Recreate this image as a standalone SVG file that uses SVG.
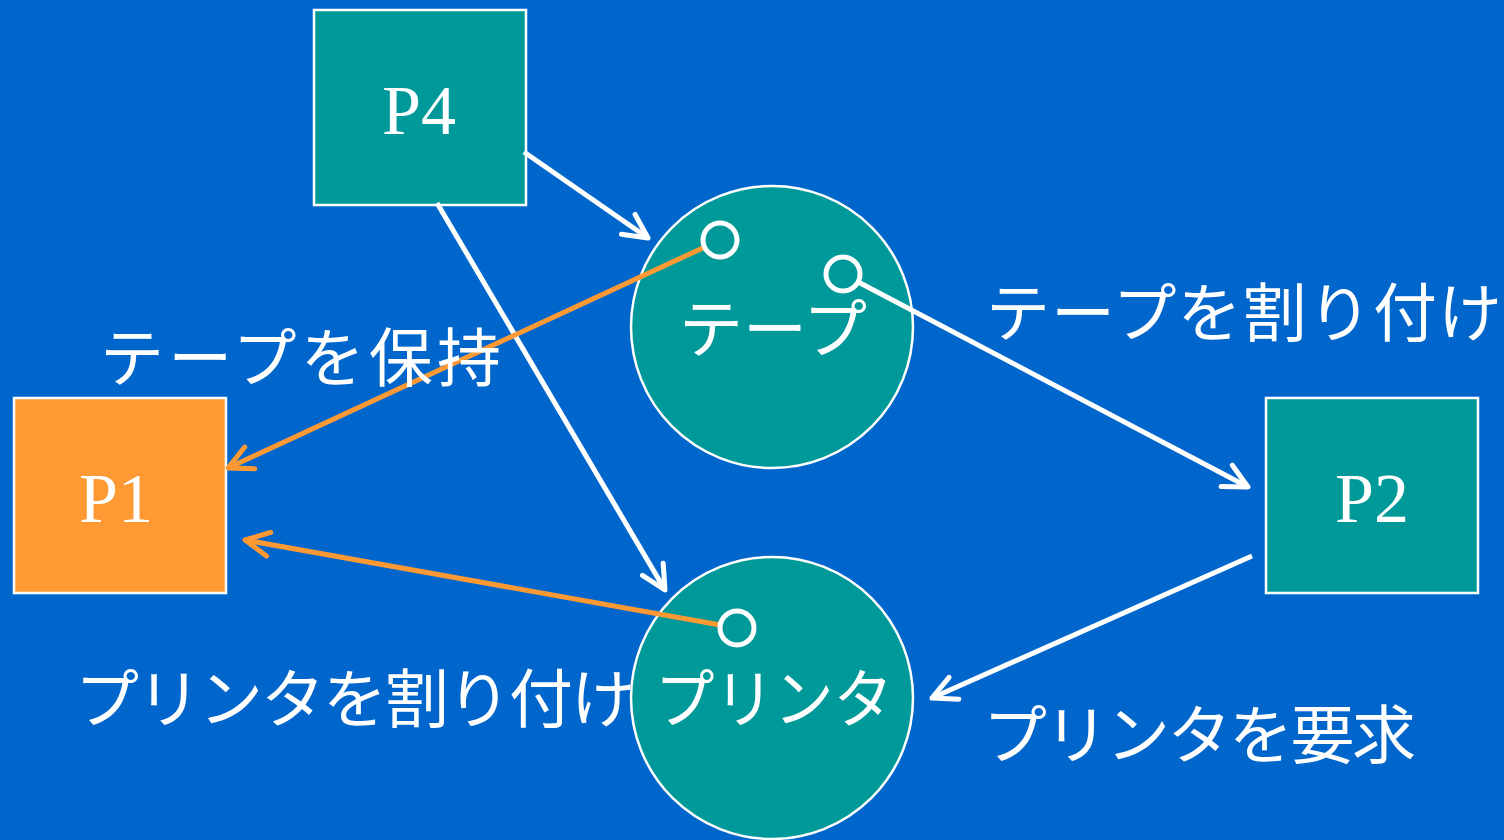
<svg xmlns="http://www.w3.org/2000/svg" width="1504" height="840" viewBox="0 0 1504 840">
<style>
.box{stroke:#FFFFFF;stroke-width:2.5}
.teal{fill:#009999}
.orange{fill:#FF9933}
.big{fill:#009999;stroke:#FFFFFF;stroke-width:2.5}
.port{fill:#009999;stroke:#FFFFFF;stroke-width:5}
.pl{font-family:"Liberation Serif","Times New Roman",serif;font-size:70px;fill:#FFFFFF;text-anchor:middle}
.jp{font-family:"Noto Sans CJK JP","Noto Sans CJK SC",sans-serif;font-size:64px;fill:#FFFFFF}
.w{stroke:#FFFFFF;stroke-width:5;fill:none}
.o{stroke:#FF9933;stroke-width:5;fill:none}
</style>
<defs>
<marker id="aw" markerUnits="userSpaceOnUse" orient="auto" overflow="visible" refX="0" refY="0" markerWidth="30" markerHeight="30">
<path d="M -24 -12 L 0 0 L -24 12" fill="none" stroke="#FFFFFF" stroke-width="5" stroke-linecap="round" stroke-linejoin="round"/>
</marker>
<marker id="ao" markerUnits="userSpaceOnUse" orient="auto" overflow="visible" refX="0" refY="0" markerWidth="30" markerHeight="30">
<path d="M -24 -12 L 0 0 L -24 12" fill="none" stroke="#FF9933" stroke-width="5" stroke-linecap="round" stroke-linejoin="round"/>
</marker>
</defs>
<rect x="0" y="0" width="1504" height="840" fill="#0066CC"/>
<g id="P4"><rect class="box teal" x="314" y="10" width="212" height="195"/><text class="pl" x="419" y="134">P4</text></g>
<g id="P1"><rect class="box orange" x="14" y="398" width="212" height="195"/><text class="pl" x="116" y="522">P1</text></g>
<g id="P2"><rect class="box teal" x="1266" y="398" width="212" height="195"/><text class="pl" x="1372" y="522">P2</text></g>
<g id="tape"><circle class="big" cx="772" cy="327" r="141"/><text class="jp" x="773" y="352" text-anchor="middle">テープ</text></g>
<g id="printer"><circle class="big" cx="772" cy="698" r="141"/><text class="jp" x="655" y="722" textLength="238" lengthAdjust="spacingAndGlyphs">プリンタ</text></g>
<g id="connectors">
<line class="w" x1="524" y1="152" x2="648" y2="238" marker-end="url(#aw)"/>
<line class="w" x1="437" y1="203" x2="665" y2="590" marker-end="url(#aw)"/>
<line class="w" x1="843" y1="274" x2="1248" y2="487" marker-end="url(#aw)"/>
<line class="w" x1="1252" y1="556" x2="932" y2="698" marker-end="url(#aw)"/>
<line class="o" x1="720" y1="240" x2="228" y2="468" marker-end="url(#ao)"/>
<line class="o" x1="737" y1="628" x2="245" y2="540" marker-end="url(#ao)"/>
</g>
<g id="ports">
<circle class="port" cx="720" cy="240" r="17"/>
<circle class="port" cx="843" cy="274" r="17"/>
<circle class="port" cx="737" cy="628" r="17"/>
</g>
<g id="labels">
<text class="jp" x="100" y="381" textLength="401" lengthAdjust="spacing">テープを保持</text>
<text class="jp" x="986" y="336" textLength="516" lengthAdjust="spacing">テープを割り付け</text>
<text class="jp" x="75" y="722" textLength="560" lengthAdjust="spacing">プリンタを割り付け</text>
<text class="jp" x="983" y="758" textLength="433" lengthAdjust="spacing">プリンタを要求</text>
</g>
</svg>
